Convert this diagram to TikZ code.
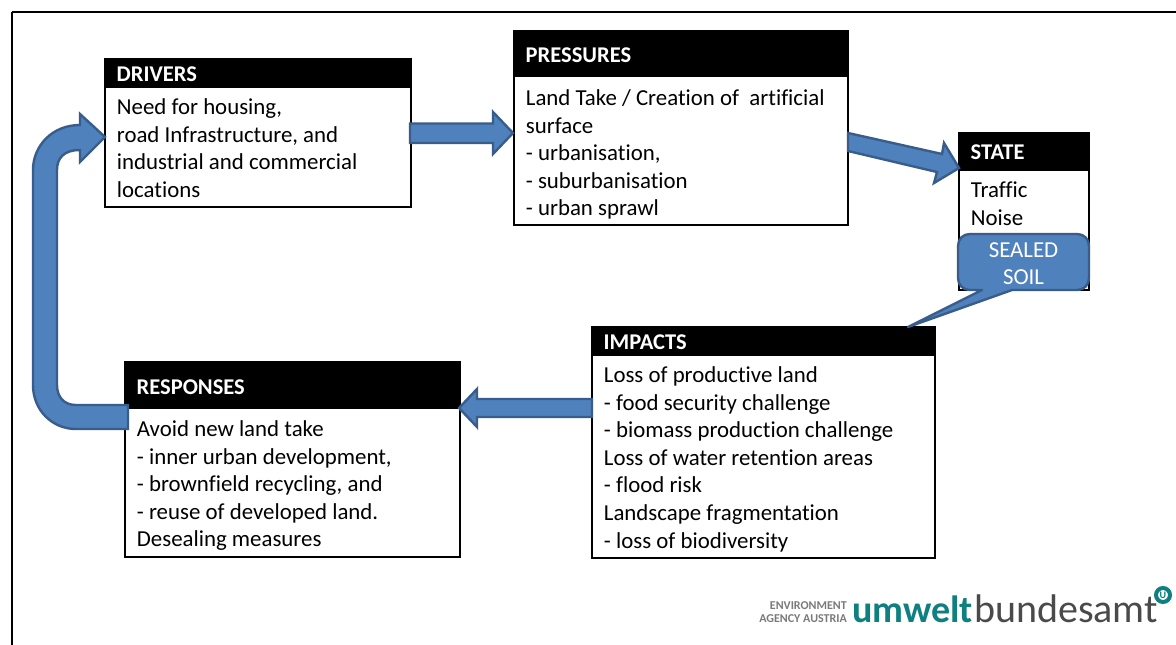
\documentclass[tikz,border=0pt]{standalone}
\usepackage{fontspec}
\setmainfont[Ligatures=NoCommon]{Carlito}
\definecolor{arrowfill}{HTML}{4F81BD}
\definecolor{arrowedge}{HTML}{385D8A}
\definecolor{logoteal}{HTML}{0F7F7F}
\definecolor{logogray}{HTML}{4A4A4A}
\definecolor{logolabel}{HTML}{7A7A7A}
\tikzset{
  x=1pt,y=-1pt,
  boxbody/.style={draw=black,line width=1.3pt,fill=white,rectangle,inner sep=0pt,outer sep=0pt,anchor=north west},
  boxhead/.style={fill=black,rectangle,inner sep=0pt,outer sep=0pt,anchor=north west},
  headtext/.style={text=white,font=\fontsize{22.5}{26}\selectfont\bfseries,anchor=west,inner sep=0pt},
  bodytext/.style={text=black,font=\fontsize{22.85}{27.6}\selectfont,anchor=north west,align=left,inner sep=0pt},
  blockarrow/.style={fill=arrowfill,draw=arrowedge,line width=2.4pt,line join=miter},
}
\begin{document}
\begin{tikzpicture}
\useasboundingbox (0,0) rectangle (1176,645);
\fill[white] (0,0) rectangle (1176,645);
\coordinate (frameTL) at (12,12);
\draw[line width=1.5pt] (frameTL) -- (1176,12);
\draw[line width=1.5pt] (frameTL) -- (12,645);

% boxes
\node[boxbody,minimum width=306pt,minimum height=148pt] (drivers) at (105,59) {};
\node[boxhead,minimum width=306pt,minimum height=29pt] (driversh) at (105,59) {};
\node[headtext] (driverst) at (116.5,74) {DRIVERS};
\node[bodytext] (driversb) at (116.7,98.5) {Need for housing,\\road Infrastructure, and\\industrial and commercial\\locations};

\node[boxbody,minimum width=334pt,minimum height=194pt] (pressures) at (514,31) {};
\node[boxhead,minimum width=334pt,minimum height=46pt] (pressuresh) at (514,31) {};
\node[headtext] (pressurest) at (525.5,55) {PRESSURES};
\node[bodytext] (pressuresb) at (525.7,89.5) {Land Take / Creation of\ \ artificial\\surface\\- urbanisation,\\- suburbanisation\\- urban sprawl};

\node[boxbody,minimum width=130pt,minimum height=157pt] (state) at (959,133) {};
\node[boxhead,minimum width=130pt,minimum height=38pt] (stateh) at (959,133) {};
\node[headtext] (statet) at (970.5,152) {STATE};
\node[bodytext] (stateb) at (970.7,181.5) {Traffic\\Noise};

\node[boxbody,minimum width=343pt,minimum height=231pt] (impacts) at (592,327) {};
\node[boxhead,minimum width=343pt,minimum height=29pt] (impactsh) at (592,327) {};
\node[headtext] (impactst) at (603.5,342) {IMPACTS};
\node[bodytext] (impactsb) at (603.7,366.5) {Loss of productive land\\- food security challenge\\- biomass production challenge\\Loss of water retention areas\\- flood risk\\Landscape fragmentation\\- loss of biodiversity};

\node[boxbody,minimum width=335pt,minimum height=195pt] (responses) at (125,362) {};
\node[boxhead,minimum width=335pt,minimum height=47pt] (responsesh) at (125,362) {};
\node[headtext] (responsest) at (136.5,387) {RESPONSES};
\node[bodytext] (responsesb) at (136.7,420.5) {Avoid new land take\\- inner urban development,\\- brownfield recycling, and\\- reuse of developed land.\\Desealing measures};

% block arrows
\draw[blockarrow] (410,123.5) -- (493,123.5) -- (493,112) -- (513,133) -- (493,154) -- (493,143) -- (410,143) -- cycle;
\draw[blockarrow] (848,133) -- (942,154) -- (944,143) -- (959,168) -- (934,183) -- (937,172) -- (848,151) -- cycle;
\draw[blockarrow] (592,399) -- (477,399) -- (477,389) -- (459,408) -- (477,427) -- (477,417) -- (592,417) -- cycle;
\draw[blockarrow] (128,405) -- (76,405) .. controls (64,405) and (57,397) .. (57,385)
  -- (57,170) .. controls (57,158) and (64,150) .. (80,150) -- (80,162) -- (105,137) -- (80,114) -- (80,125)
  .. controls (52,125) and (33,146) .. (33,170) -- (33,385) .. controls (33,410) and (52,429) .. (76,429) -- (128,429) -- cycle;

% callout
\draw[fill=arrowfill,draw=arrowedge,line width=2.4pt,line join=round]
  (970,234) -- (1077,234) .. controls (1084,234) and (1089,239) .. (1089,246)
  -- (1089,278) .. controls (1089,285) and (1084,290) .. (1077,290)
  -- (1012,290) -- (908,327) -- (982,290) -- (970,290)
  .. controls (963,290) and (958,285) .. (958,278) -- (958,246)
  .. controls (958,239) and (963,234) .. (970,234) -- cycle;
\node[text=white,font=\fontsize{22.85}{27.6}\selectfont,align=center,inner sep=0pt,anchor=north] (sealed) at (1023.5,242) {SEALED\\SOIL};

% logo
\node[text=logolabel,font=\fontsize{12}{13}\selectfont\bfseries,align=right,inner sep=0pt,anchor=east] (logolabeltext) at (847,612.5) {ENVIRONMENT\\AGENCY AUSTRIA};
\node[text=logoteal,font=\fontsize{38}{38}\selectfont\bfseries,inner sep=0pt,anchor=base west] (logoa) at (852,622) {umwelt};
\node[text=logogray,font=\fontsize{40}{40}\selectfont,inner sep=0pt,anchor=base west] (logob) at (974,622) {bundesamt};
\draw[logoteal,line width=4pt] (1163,595) circle[radius=7pt];
\node[text=logoteal,font=\fontsize{10}{10}\selectfont\bfseries,inner sep=0pt] (logou) at (1163,595) {U};
\end{tikzpicture}
\end{document}
